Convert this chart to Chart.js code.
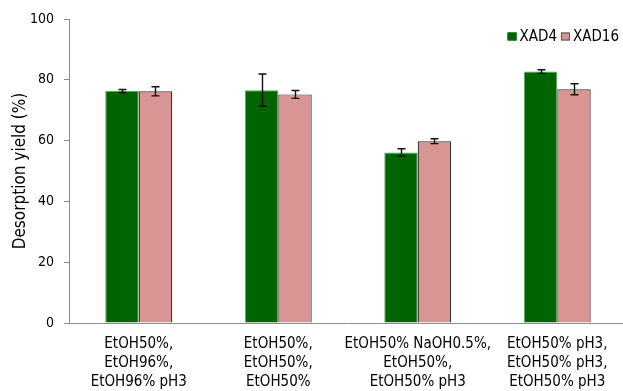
<!DOCTYPE html>
<html>
<head>
<meta charset="utf-8">
<script src="https://cdn.jsdelivr.net/npm/chart.js@4"></script>
<style>
  html, body { margin: 0; padding: 0; background: #fff; overflow: hidden; }
  #wrap { width: 627px; height: 391px; }
</style>
</head>
<body>
<div id="wrap"><canvas id="c" width="627" height="391"></canvas></div>
<script>
// Elution conditions (one group of bars per condition)
const categories = [
  ["EtOH50%,", "EtOH96%,", "EtOH96% pH3"],
  ["EtOH50%,", "EtOH50%,", "EtOH50%"],
  ["EtOH50% NaOH0.5%,", "EtOH50%,", "EtOH50% pH3"],
  ["EtOH50% pH3,", "EtOH50% pH3,", "EtOH50% pH3"]
];

// Desorption yield (%) and standard deviation per resin
const xad4Values  = [76.3, 76.6, 56.1, 82.7];
const xad4Errors  = [0.5, 5.3, 1.2, 0.6];
const xad16Values = [76.2, 75.2, 59.8, 76.9];
const xad16Errors = [1.5, 1.3, 0.8, 1.8];

const yTicks = [0, 20, 40, 60, 80, 100];

const FONT = "'DejaVu Sans Condensed', 'DejaVu Sans', sans-serif";

// Draws symmetric error bars on top of every bar
const errorBars = {
  id: 'errorBars',
  afterDatasetsDraw(chart) {
    const { ctx, scales: { y } } = chart;
    ctx.save();
    ctx.strokeStyle = '#111';
    ctx.lineWidth = 1.4;
    chart.data.datasets.forEach((ds, i) => {
      const meta = chart.getDatasetMeta(i);
      meta.data.forEach((bar, j) => {
        const v = ds.data[j], e = ds.errors[j];
        const yTop = y.getPixelForValue(v + e);
        const yBot = y.getPixelForValue(v - e);
        const x = Math.round(bar.x) + 0.5, cap = 4;
        ctx.beginPath();
        ctx.moveTo(x, yTop); ctx.lineTo(x, yBot);
        ctx.moveTo(x - cap, yTop); ctx.lineTo(x + cap, yTop);
        ctx.moveTo(x - cap, yBot); ctx.lineTo(x + cap, yBot);
        ctx.stroke();
      });
    });
    ctx.restore();
  }
};

// Compact legend placed in the upper right corner of the plot area
const cornerLegend = {
  id: 'cornerLegend',
  afterDraw(chart) {
    const { ctx } = chart;
    const right = 619, cy = 36.5, box = 9, boxH = 8, gapText = 3, gapItem = 4;
    ctx.save();
    ctx.font = "15px " + FONT;
    ctx.textBaseline = 'middle';
    ctx.textAlign = 'left';
    const items = chart.data.datasets.map(ds => ({
      text: ds.label, fill: ds.backgroundColor, stroke: ds.legendStroke,
      w: ctx.measureText(ds.label).width
    }));
    let total = 0;
    items.forEach((it, k) => { total += box + gapText + it.w + (k ? gapItem : 0); });
    let x = right - total;
    items.forEach((it, k) => {
      if (k) x += gapItem;
      ctx.fillStyle = it.fill;
      ctx.fillRect(x, cy - boxH / 2, box, boxH);
      ctx.strokeStyle = it.stroke;
      ctx.lineWidth = 1;
      ctx.strokeRect(x + 0.5, cy - boxH / 2 + 0.5, box - 1, boxH - 1);
      x += box + gapText;
      ctx.fillStyle = '#000';
      ctx.fillText(it.text, x, cy + 0.5);
      x += it.w;
    });
    ctx.restore();
  }
};

new Chart(document.getElementById('c'), {
  type: 'bar',
  data: {
    labels: categories,
    datasets: [
      {
        label: 'XAD4',
        data: xad4Values,
        errors: xad4Errors,
        backgroundColor: '#006400',
        borderColor: '#5fa35f',
        legendStroke: '#006400',
        borderWidth: 1
      },
      {
        label: 'XAD16',
        data: xad16Values,
        errors: xad16Errors,
        backgroundColor: '#d99594',
        borderColor: '#333333',
        legendStroke: '#555555',
        borderWidth: 1.2
      }
    ]
  },
  options: {
    responsive: false,
    animation: false,
    devicePixelRatio: 1,
    layout: { padding: { top: 19, right: 0, bottom: 0, left: 0 } },
    datasets: {
      bar: { categoryPercentage: 0.48, barPercentage: 1.0 }
    },
    plugins: {
      tooltip: { enabled: false },
      legend: { display: false }
    },
    scales: {
      x: {
        grid: { display: false, drawTicks: false },
        border: { display: true, color: '#8c8c8c', width: 1 },
        ticks: {
          color: '#000',
          padding: 12,
          maxRotation: 0,
          autoSkip: false,
          font: { family: FONT, size: 15, lineHeight: '19px' }
        },
        afterFit(scale) { scale.height = 68; }
      },
      y: {
        min: 0,
        max: 100,
        afterBuildTicks(scale) { scale.ticks = yTicks.map(v => ({ value: v })); },
        grid: {
          drawOnChartArea: false,
          drawTicks: true,
          tickLength: 5,
          color: '#8c8c8c'
        },
        border: { display: true, color: '#8c8c8c', width: 1 },
        ticks: {
          color: '#000',
          padding: 10,
          font: { family: FONT, size: 14 }
        },
        title: {
          display: true,
          text: 'Desorption yield (%)',
          color: '#000',
          padding: { top: 10, bottom: 0 },
          font: { family: FONT, size: 17 }
        },
        afterFit(scale) { scale.width = 69; }
      }
    }
  },
  plugins: [errorBars, cornerLegend]
});
</script>
</body>
</html>
